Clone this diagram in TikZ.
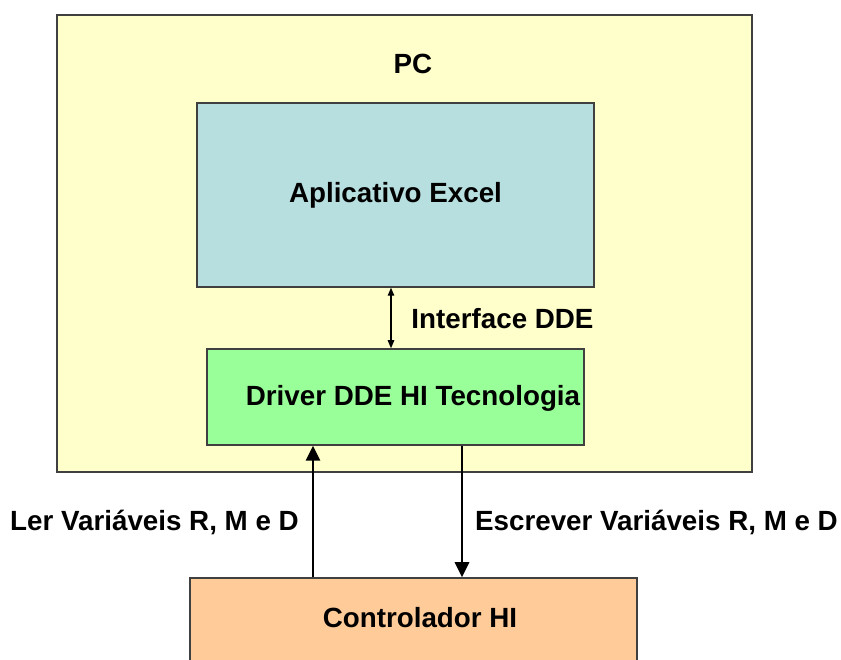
\documentclass[tikz,border=0pt]{standalone}
\usepackage{fontspec}
\setmainfont{Liberation Sans}
\usetikzlibrary{arrows.meta}
\definecolor{pcyellow}{HTML}{FFFFCC}
\definecolor{excelblue}{HTML}{B7DFE0}
\definecolor{drivergreen}{HTML}{99FF99}
\definecolor{ctrlorange}{HTML}{FFCC99}

\begin{document}
\begin{tikzpicture}[box/.style = {draw = black!75, line width = 0.03cm, inner sep = 0},
                    boxtext/.style = {font = \fontsize{15.8}{18}\selectfont\bfseries},
                    bus/.style = {line width = 0.055cm, -{Triangle[width = 0.28cm, length = 0.3cm]}},
                    dde/.style = {line width = 0.025cm,
                        {Triangle[width = 0.13cm, length = 0.16cm]}-{Triangle[width = 0.13cm, length = 0.16cm]}}]
    \useasboundingbox (0,0) rectangle (16.82,13.2);
    \clip (0,0) rectangle (16.82,13.2);
    % PC
    \node[box, fill = pcyellow, minimum width = 13.9cm, minimum height = 9.14cm] (pc) at (8.09,8.33) {};
    \node[boxtext] (pclabel) at (8.26,11.92) {PC};
    % blocks inside the PC
    \node[box, fill = excelblue, minimum width = 7.94cm, minimum height = 3.68cm, boxtext] (excel) at (7.91,9.3) {Aplicativo Excel};
    \node[box, fill = drivergreen, minimum width = 7.54cm, minimum height = 1.92cm] (driver) at (7.91,5.26) {};
    \node[boxtext] (driverlabel) at (8.26,5.24) {Driver DDE HI Tecnologia};
    \draw[dde] ([xshift = -0.09cm]excel.south) -- ([xshift = -0.09cm]driver.north);
    \node[boxtext] (ddelabel) at (10.05,6.82) {Interface DDE};
    % controller
    \node[box, fill = ctrlorange, minimum width = 8.94cm, minimum height = 2.64cm] (ctrl) at (8.27,0.32) {};
    \node[boxtext] (ctrllabel) at (8.4,0.84) {Controlador HI};
    \coordinate (readx) at (6.26,0);
    \coordinate (writex) at (9.24,0);
    \draw[bus] (ctrl.north -| readx) -- (driver.south -| readx);
    \draw[bus] (driver.south -| writex) -- (ctrl.north -| writex);
    \node[boxtext] (readlabel) at (3.09,2.76) {Ler Variáveis R, M e D};
    \node[boxtext] (writelabel) at (13.13,2.76) {Escrever Variáveis R, M e D};
\end{tikzpicture}
\end{document}
